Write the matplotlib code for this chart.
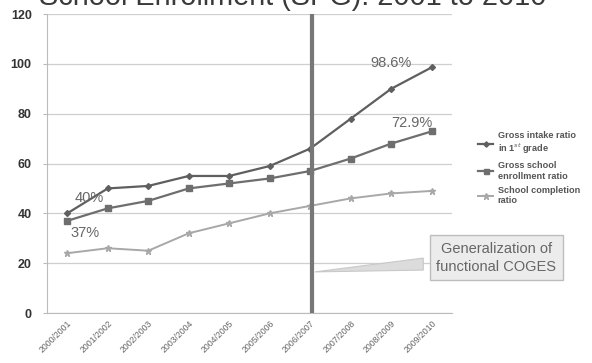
import matplotlib
matplotlib.use("Agg")
import matplotlib.pyplot as plt
from matplotlib.patches import Polygon

years = ["2000/2001", "2001/2002", "2002/2003", "2003/2004", "2004/2005",
         "2005/2006", "2006/2007", "2007/2008", "2008/2009", "2009/2010"]
intake = [40, 50, 51, 55, 55, 59, 66, 78, 90, 98.6]
enrollment = [37, 42, 45, 50, 52, 54, 57, 62, 68, 72.9]
completion = [24, 26, 25, 32, 36, 40, 43, 46, 48, 49]
yticks = [0, 20, 40, 60, 80, 100, 120]

plt.rcParams['font.family'] = ['Liberation Sans', 'DejaVu Sans']

fig = plt.figure(figsize=(5.92, 3.63), dpi=100)
ax = fig.add_axes([0.0794, 0.1377, 0.6841, 0.8237])
x = list(range(len(years)))

l1, = ax.plot(x, intake, color='#5f5f5f', lw=1.6, marker='D', ms=3, label='Gross intake ratio\nin 1$^{st}$ grade')
l2, = ax.plot(x, enrollment, color='#6e6e6e', lw=1.6, marker='s', ms=4, label='Gross school\nenrollment ratio')
l3, = ax.plot(x, completion, color='#a8a8a8', lw=1.4, marker='*', ms=5, label='School completion\nratio')

ax.set_xlim(-0.5, len(years) - 0.5)
ax.set_ylim(0, 120)
ax.set_yticks(yticks)
ax.set_yticklabels([str(v) for v in yticks], fontsize=9, fontweight='bold', color='#333333')
ax.set_xticks(x)
ax.set_xticklabels(years, rotation=45, ha='right', fontsize=6.3, color='#666666', rotation_mode='anchor')
ax.tick_params(axis='x', length=0, pad=4)
ax.tick_params(axis='y', length=3, color='#bbbbbb', pad=8)
ax.grid(axis='y', color='#cfcfcf', lw=0.9)
ax.set_axisbelow(True)
for s in ['top', 'right']:
    ax.spines[s].set_visible(False)
for s in ['left', 'bottom']:
    ax.spines[s].set_color('#bbbbbb')

ax.axvline(6.05, color='#777777', lw=3, zorder=5)

ax.text(8.0, 100.4, '98.6%', fontsize=10.5, color='#666666', ha='center', va='center')
ax.text(8.5, 76.4, '72.9%', fontsize=10.5, color='#666666', ha='center', va='center')
ax.text(0.54, 46, '40%', fontsize=10.5, color='#666666', ha='center', va='center')
ax.text(0.44, 32, '37%', fontsize=10.5, color='#666666', ha='center', va='center')

# callout
fig.text(0.838, 0.29, 'Generalization of\nfunctional COGES', fontsize=10.5, color='#666666',
         ha='center', va='center', linespacing=1.35,
         bbox=dict(boxstyle='square,pad=0.45', fc='#ececec', ec='#bdbdbd', lw=1))
wedge = Polygon([(0.715, 0.289), (0.715, 0.256), (0.532, 0.251)], closed=True,
                transform=fig.transFigure, fc='#dcdcdc', ec='#c8c8c8', lw=0.8, zorder=4)
fig.patches.append(wedge)

leg = fig.legend(handles=[l1, l2, l3], loc='center left', bbox_to_anchor=(0.808, 0.537),
                 frameon=False, fontsize=6.6, handlelength=1.6, labelspacing=0.55,
                 handletextpad=0.5, markerscale=0.9, borderpad=0, borderaxespad=0)
for t in leg.get_texts():
    t.set_color('#555555')
    t.set_fontweight('bold')

fig.text(0.495, 0.985, 'School Enrollment (SPG): 2001 to 2010', fontsize=20.8, color='#3a3a3a',
         ha='center', va='baseline')

fig.savefig('out.png', dpi=100)
